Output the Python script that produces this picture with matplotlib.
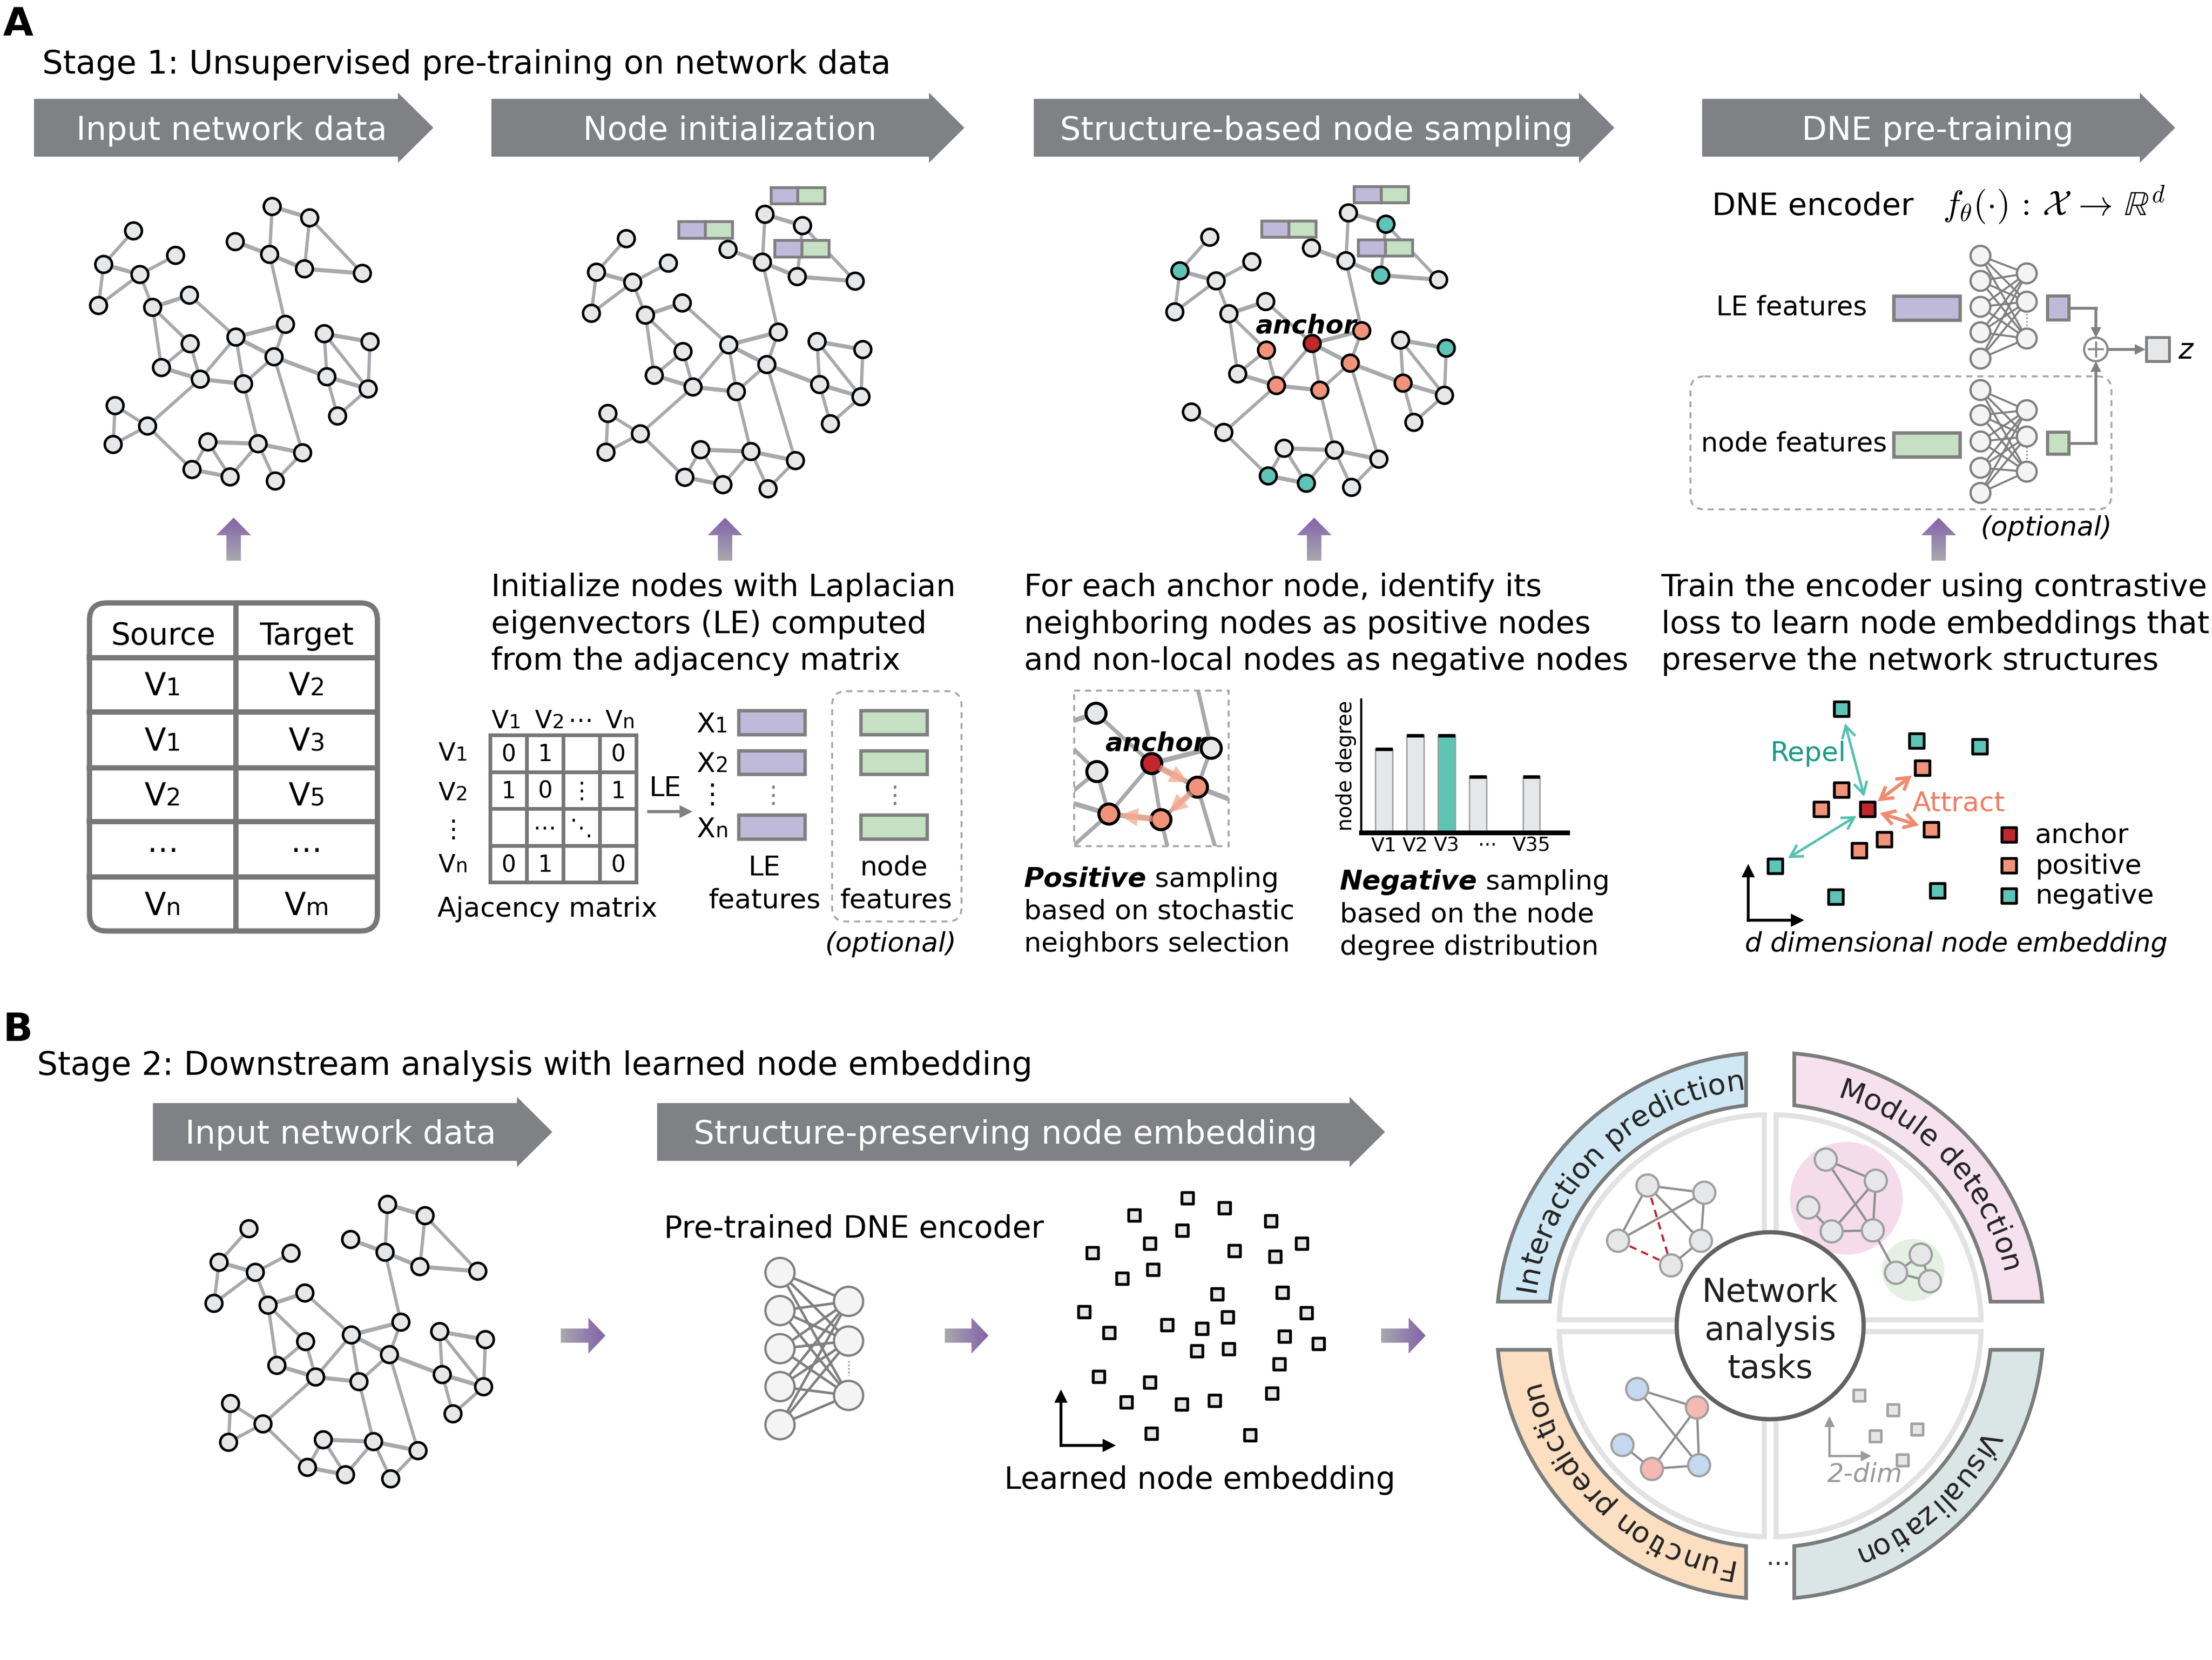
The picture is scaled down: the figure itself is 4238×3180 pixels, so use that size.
import numpy as np
import matplotlib
matplotlib.use("Agg")
import matplotlib.pyplot as plt
from matplotlib.patches import Polygon, Rectangle, Circle, FancyBboxPatch, FancyArrowPatch
from matplotlib.font_manager import FontProperties, findfont, get_font

# ---------------------------------------------------------------- layout
W, H = 1562.0, 1172.0
FIG_W, FIG_H, DPI = 4238, 3180, 300
PX = 72.0 / DPI * FIG_W / W          # points per layout unit

# ---------------------------------------------------------------- data
# base network (panel A, "Input network data"): node coordinates
net_x = [94.3, 73.2, 98.8, 124.0, 69.6, 107.8, 133.8, 192.2, 218.7, 166.1, 190.4, 215.0,
         255.9, 201.6, 166.6, 134.3, 114.0, 141.4, 172.0, 193.5, 229.0, 261.3, 230.8, 260.0,
         238.4, 81.3, 104.2, 79.9, 146.8, 182.3, 213.7, 135.6, 162.5, 194.4]
net_y = [163.0, 186.7, 193.8, 180.3, 215.7, 217.0, 208.4, 145.8, 153.8, 170.6, 179.6, 189.8,
         193.0, 229.0, 238.0, 242.7, 259.5, 267.7, 271.0, 251.9, 235.6, 241.3, 266.0, 274.6,
         293.7, 286.4, 300.8, 313.8, 312.0, 313.3, 319.7, 331.5, 336.7, 339.6]
net_edges = [(0, 1), (1, 2), (2, 3), (1, 4), (2, 4), (2, 5), (5, 6), (5, 16), (5, 15), (6, 14),
             (15, 16), (15, 17), (16, 17), (17, 18), (14, 17), (14, 18), (14, 13), (13, 19),
             (19, 18), (14, 19), (19, 22), (10, 13), (9, 10), (7, 10), (7, 8), (8, 11), (8, 12),
             (11, 12), (10, 11), (20, 21), (20, 22), (20, 23), (21, 23), (22, 23), (23, 24),
             (22, 24), (25, 26), (25, 27), (26, 27), (26, 31), (31, 32), (31, 28), (28, 29),
             (28, 32), (32, 29), (29, 30), (29, 33), (30, 33), (18, 29), (19, 30), (26, 17)]
thick_edges = {(1, 2), (9, 10), (10, 11), (7, 8), (11, 12), (14, 13), (14, 19), (19, 22),
               (20, 21), (22, 23), (17, 18), (16, 17), (28, 29), (29, 30), (31, 32), (5, 6)}
anchor_node = 14
positive_nodes = [13, 15, 17, 18, 19, 22]
negative_nodes = [1, 8, 11, 21, 31, 32]
inset_positive = [17, 18, 19]
walk_path = [14, 19, 18, 17]

# feature boxes attached to nodes (x, y of top-left corner)
feat2_x = [544.2, 479.0, 547.0]
feat2_y = [132.3, 156.4, 169.7]
feat3_x = [956.2, 891.0, 959.0]
feat3_y = [131.5, 155.8, 169.0]

# edge list table
table_header = ["Source", "Target"]
table_source = ["V1", "V1", "V2", "⋯", "Vn"]
table_target = ["V2", "V3", "V5", "⋯", "Vm"]

# adjacency matrix
adj_cols = ["V1", "V2", "⋯", "Vn"]
adj_rows = ["V1", "V2", "⋮", "Vn"]
adj_vals = [["0", "1", "", "0"],
            ["1", "0", "⋮", "1"],
            ["", "⋯", "⋱", ""],
            ["0", "1", "", "0"]]
le_rows = ["X1", "X2", "⋮", "Xn"]

# node degree distribution
deg_labels = ["V1", "V2", "V3", "···", "V35"]
deg_values = [6, 7, 7, 4, 4]
deg_colors = ["#e6e7e8", "#e6e7e8", "#5ec4b6", "#e6e7e8", "#e6e7e8"]

# contrastive embedding (panel A)
emb_a_x = [1300.2, 1353.5, 1398.0, 1357.3, 1300.2, 1286.1, 1318.7, 1363.8, 1330.6, 1312.7,
           1253.5, 1296.4, 1368.2]
emb_a_y = [500.4, 523.1, 526.9, 542.0, 557.7, 571.3, 571.3, 585.5, 592.6, 600.2, 611.5,
           633.3, 628.9]
emb_a_kind = ["negative", "negative", "negative", "positive", "positive", "positive", "anchor",
              "positive", "positive", "positive", "negative", "negative", "negative"]
legend_kinds = ["anchor", "positive", "negative"]

# learned node embedding (panel B)
emb_b_x = [838.4, 864.5, 801.0, 897.4, 834.7, 812.0, 919.3, 771.5, 871.7, 900.4, 814.3,
           792.3, 859.6, 905.7, 765.5, 922.4, 866.8, 824.1, 848.7, 783.3, 906.9, 931.1,
           845.3, 867.6, 903.5, 775.7, 812.0, 795.4, 834.3, 857.7, 898.2, 813.1, 882.7]
emb_b_y = [846.0, 853.0, 858.0, 862.0, 868.5, 878.0, 878.0, 884.5, 883.0, 887.0, 896.5,
           902.5, 913.5, 912.5, 926.0, 927.0, 930.0, 935.5, 938.0, 941.0, 943.5, 948.5,
           954.0, 952.5, 963.0, 972.0, 976.0, 990.0, 991.5, 989.0, 983.5, 1012.0, 1013.0]

# network analysis task icons
ip_x = [1163.4, 1203.5, 1142.6, 1201.1, 1180.0]
ip_y = [837.0, 842.1, 876.0, 876.0, 893.4]
ip_edges = [(0, 1), (0, 2), (0, 3), (2, 1), (1, 3), (3, 4)]
ip_pred = [(0, 4), (2, 4)]
md_x = [1289.3, 1324.6, 1277.0, 1293.4, 1322.5, 1356.3, 1338.9, 1362.8]
md_y = [818.7, 833.6, 852.5, 869.4, 868.7, 885.8, 898.6, 904.6]
md_edges = [(0, 1), (0, 4), (1, 3), (1, 4), (2, 3), (3, 4), (4, 6), (5, 6), (6, 7), (5, 7)]
fp_x = [1156.1, 1198.3, 1145.7, 1166.5, 1199.8]
fp_y = [980.7, 993.7, 1020.2, 1037.1, 1034.5]
fp_class = ["blue", "red", "blue", "red", "blue"]
fp_edges = [(0, 1), (0, 4), (1, 3), (1, 4), (2, 3), (3, 4)]
vis_x = [1312.9, 1336.8, 1353.7, 1324.4, 1343.3]
vis_y = [985.1, 995.5, 1009.2, 1013.9, 1030.8]
task_names = ["Interaction prediction", "Module detection", "Function prediction", "Visualization"]
task_angles = [134.0, 43.0, 227.0, 312.0]
task_colors = ["#cfe8f4", "#f6e2ee", "#fcdec1", "#d9e6e5"]

# ---------------------------------------------------------------- colours
BANNER = "#808185"
NODE_F = "#e6e7e8"
EDGE_C = "#a7a9ac"
TEAL = "#5ec4b6"
ORANGE = "#f0937a"
RED = "#c1272d"
PURPLE_F = "#bfb9da"
GREEN_F = "#c5e0c3"
BOXG = "#7f7f7f"
NNG = "#808080"
NNF = "#f3f4f3"
DASH = "#a8a8a8"
KIND_COL = {"anchor": RED, "positive": ORANGE, "negative": TEAL}

fig = plt.figure(figsize=(FIG_W / DPI, FIG_H / DPI), dpi=DPI)
ax = fig.add_axes([0, 0, 1, 1])
ax.set_xlim(0, W)
ax.set_ylim(H, 0)
ax.set_autoscale_on(False)
ax.axis("off")


# ---------------------------------------------------------------- helpers
def text_width(s, size, weight="normal", style="normal"):
    fp = FontProperties(family="DejaVu Sans", weight=weight, style=style, size=size)
    font = get_font(findfont(fp))
    font.set_size(size, 72)
    w = 0.0
    for ch in s:
        w += font.load_char(ord(ch)).linearHoriAdvance / 65536.0
    return w / PX


def T(x, y, s, size, ha="left", **kw):
    return ax.text(x, y, s, fontsize=size, ha=ha, va="baseline", **kw)


def sub_text(x, y, main, sub, size, subsize, ha="center", color="black"):
    w1 = text_width(main, size)
    w2 = text_width(sub, subsize)
    x0 = x - (w1 + w2) / 2 if ha == "center" else x
    T(x0, y, main, size, color=color)
    T(x0 + w1, y, sub, subsize, color=color)


def label_v(x, y, s, size, subsize):
    if len(s) >= 2 and s[0] in "VX":
        sub_text(x, y, s[0], s[1:], size, subsize)
    else:
        T(x, y, s, size, ha="center")


def banner(x0, tip, ymid, label, tx):
    hb, hh, hl = 20.4, 24.8, 25.0
    pts = [(x0, ymid - hb), (tip - hl, ymid - hb), (tip - hl, ymid - hh), (tip, ymid),
           (tip - hl, ymid + hh), (tip - hl, ymid + hb), (x0, ymid + hb)]
    ax.add_patch(Polygon(pts, closed=True, fc=BANNER, ec="none", zorder=2))
    T(tx, ymid + 8.4, label, 15, ha="center", color="white", zorder=3)


def grad_patch(pts, c0, c1, vertical):
    pts = np.array(pts)
    poly = Polygon(pts, closed=True, fc="none", ec="none")
    ax.add_patch(poly)
    t = np.linspace(0, 1, 64)[:, None]
    cols = np.array(c0)[None, :] * (1 - t) + np.array(c1)[None, :] * t
    x0, x1 = pts[:, 0].min(), pts[:, 0].max()
    y0, y1 = pts[:, 1].min(), pts[:, 1].max()
    img = cols[:, None, :] if vertical else cols[None, :, :]
    im = ax.imshow(img, extent=(x0, x1, y1, y0), aspect="auto", interpolation="bilinear",
                   zorder=3)
    im.set_clip_path(poly)


GRAY_A = (0.66, 0.66, 0.68)
PURP_A = (0.51, 0.385, 0.665)


def up_arrow(x, ytip, ybot):
    hw, sw, hb = 12.3, 5.1, ytip + 12.4
    pts = [(x, ytip), (x + hw, hb), (x + sw, hb), (x + sw, ybot), (x - sw, ybot), (x - sw, hb),
           (x - hw, hb)]
    grad_patch(pts, PURP_A, GRAY_A, True)


def right_arrow(x0, x1, y):
    hl, hw, sw = 12.0, 12.7, 5.0
    pts = [(x0, y - sw), (x1 - hl, y - sw), (x1 - hl, y - hw), (x1, y), (x1 - hl, y + hw),
           (x1 - hl, y + sw), (x0, y + sw)]
    grad_patch(pts, GRAY_A, PURP_A, False)


def arrow(p0, p1, color, lw_px, style="-|>", ms=10, sA=0, sB=0, alpha=1.0, z=5):
    a = FancyArrowPatch(p0, p1, arrowstyle=style, mutation_scale=ms, color=color,
                        lw=lw_px * PX, shrinkA=sA, shrinkB=sB, alpha=alpha, zorder=z,
                        joinstyle="miter", capstyle="butt")
    ax.add_patch(a)
    return a


def add_graph(dx, dy, colors=None, skip=(), scale=1.0, origin=None, clip=None, r=5.9):
    X = np.array(net_x, float)
    Y = np.array(net_y, float)
    if origin is not None:
        X = origin[0] + scale * (X - net_x[anchor_node])
        Y = origin[1] + scale * (Y - net_y[anchor_node])
    else:
        X = X + dx
        Y = Y + dy
    arts = []
    for (a, b) in net_edges:
        if a in skip or b in skip:
            continue
        lw = 2.9 if (a, b) in thick_edges else 2.3
        ln, = ax.plot([X[a], X[b]], [Y[a], Y[b]], color=EDGE_C, lw=lw * scale * PX,
                      solid_capstyle="butt", zorder=3)
        arts.append(ln)
    for i in range(len(X)):
        if i in skip:
            continue
        fc = colors.get(i, NODE_F) if colors else NODE_F
        c = Circle((X[i], Y[i]), r * scale, fc=fc, ec="black", lw=1.8 * scale * PX, zorder=4)
        ax.add_patch(c)
        arts.append(c)
    if clip is not None:
        for a_ in arts:
            a_.set_clip_path(clip)
    return X, Y


def feat_box(x, y, w=38.2, h=11.5, z=6):
    ax.add_patch(Rectangle((x, y), w / 2, h, fc=PURPLE_F, ec=BOXG, lw=2.0 * PX, zorder=z))
    ax.add_patch(Rectangle((x + w / 2, y), w / 2, h, fc=GREEN_F, ec=BOXG, lw=2.0 * PX, zorder=z))


def nnet(xi, yis, xh, yhs, r, lw_px, dots):
    for yi in yis:
        for yh in yhs:
            ax.plot([xi, xh], [yi, yh], color=NNG, lw=lw_px * PX, zorder=3)
    for y in yis:
        ax.add_patch(Circle((xi, y), r, fc=NNF, ec=NNG, lw=1.6 * PX, zorder=4))
    for y in yhs:
        ax.add_patch(Circle((xh, y), r, fc=NNF, ec=NNG, lw=1.6 * PX, zorder=4))
    ax.plot([xh, xh], dots, color=NNG, lw=1.0 * PX, ls=(0, (1, 1.5)), zorder=4)


def dashed_box(x, y, w, h, rnd=0.0, z=2):
    if rnd > 0:
        p = FancyBboxPatch((x, y), w, h, boxstyle="round,pad=0,rounding_size=%g" % rnd,
                           fc="none", ec=DASH, lw=1.4 * PX, ls=(0, (3, 2.5)), zorder=z)
    else:
        p = Rectangle((x, y), w, h, fc="none", ec=DASH, lw=1.4 * PX, ls=(0, (3, 2.5)), zorder=z)
    ax.add_patch(p)


# ================================================================ PANEL A
T(2, 25, "A", 18, weight="bold")
T(30, 52, "Stage 1: Unsupervised pre-training on network data", 15)
ymidA = 90.2
banner(24, 306, ymidA, "Input network data", 163.5)
banner(347, 681, ymidA, "Node initialization", 515.5)
banner(730, 1140, ymidA, "Structure-based node sampling", 929.5)
banner(1202, 1536, ymidA, "DNE pre-training", 1368.5)

# graphs
add_graph(0, 0)
add_graph(348, 5.5)
for fx, fy in zip(feat2_x, feat2_y):
    feat_box(fx, fy)

col3 = {anchor_node: RED}
col3.update({i: ORANGE for i in positive_nodes})
col3.update({i: TEAL for i in negative_nodes})
add_graph(760, 4.5, colors=col3, skip=(27,))
for fx, fy in zip(feat3_x, feat3_y):
    feat_box(fx, fy)
T(922, 235.5, "anchor", 12, ha="center", weight="bold", style="italic", zorder=7)

for xa in [165, 512, 928, 1369]:
    up_arrow(xa, 365.5, 396.0)

# description texts
desc1 = ["Initialize nodes with Laplacian", "eigenvectors (LE) computed", "from the adjacency matrix"]
desc2 = ["For each anchor node, identify its", "neighboring nodes as positive nodes",
         "and non-local nodes as negative nodes"]
desc3 = ["Train the encoder using contrastive", "loss to learn node embeddings that",
         "preserve the network structures"]
for k in range(3):
    T(347, 421 + 26 * k, desc1[k], 14.2)
    T(723, 421 + 26 * k, desc2[k], 14.2)
    T(1173, 421 + 26 * k, desc3[k], 14.2)

# ---- edge-list table
TBL = "#777777"
ax.add_patch(FancyBboxPatch((63.2, 425.7), 203.3, 231.6, boxstyle="round,pad=0,rounding_size=12",
                            fc="white", ec=TBL, lw=3.7 * PX, zorder=3))
ax.plot([166.6, 166.6], [425.7, 657.3], color=TBL, lw=3.7 * PX, zorder=4)
for yl in [464.5, 502.7, 542.0, 580.0, 619.0]:
    ax.plot([63.2, 266.5], [yl, yl], color=TBL, lw=3.7 * PX, zorder=4)
T(115, 455, table_header[0], 14, ha="center", zorder=5)
T(216.5, 455, table_header[1], 14, ha="center", zorder=5)
row_base = [491.0, 530.0, 568.5, 607.0, 646.0]
for k in range(5):
    label_v(115, row_base[k], table_source[k], 14.5, 11)
    label_v(216.5, row_base[k], table_target[k], 14.5, 11)

# ---- adjacency matrix
mx0, my0, cw, chh = 346.0, 519.0, 25.85, 26.0
for i in range(5):
    ax.plot([mx0 + i * cw] * 2, [my0, my0 + 4 * chh], color=TBL, lw=2.6 * PX, zorder=3)
    ax.plot([mx0, mx0 + 4 * cw], [my0 + i * chh] * 2, color=TBL, lw=2.6 * PX, zorder=3)
for r_ in range(4):
    for c_ in range(4):
        v = adj_vals[r_][c_]
        if v:
            T(mx0 + (c_ + 0.5) * cw, my0 + (r_ + 0.5) * chh + 5.5, v, 10.5, ha="center")
col_cx = [357.5, 388.0, 410.0, 438.0]
for c_ in range(4):
    label_v(col_cx[c_], 514, adj_cols[c_], 11.5, 9)
row_cy = [537, 565, 591, 616]
for r_ in range(4):
    label_v(320, row_cy[r_], adj_rows[r_], 11.5, 9)
T(309, 647, "Ajacency matrix", 12.5)
T(470, 562, "LE", 12.5, ha="center")
arrow((457, 573), (489, 573), NNG, 2.2, ms=9)

# ---- LE / node features
feat_y = [501.7, 530.0, 575.4]
for k, fy in enumerate(feat_y):
    ax.add_patch(Rectangle((521.7, fy), 46.8, 16.7, fc=PURPLE_F, ec=BOXG, lw=2.4 * PX, zorder=3))
    ax.add_patch(Rectangle((607.6, fy), 46.8, 16.7, fc=GREEN_F, ec=BOXG, lw=2.4 * PX, zorder=3))
T(546, 567, "⋮", 11, ha="center", color="#777777")
T(632, 567, "⋮", 11, ha="center", color="#777777")
le_base = [517, 545, 567, 591]
for k in range(4):
    label_v(503, le_base[k], le_rows[k], 12.5, 9.5)
dashed_box(587.6, 488.0, 91.4, 162.6, rnd=10)
T(540, 618, "LE", 12.5, ha="center")
T(540, 641, "features", 12.5, ha="center")
T(631, 618, "node", 12.5, ha="center")
T(633, 641, "features", 12.5, ha="center")
T(629, 672, "(optional)", 12.5, ha="center", style="italic")

# ---- positive sampling inset
clip_rect = Rectangle((758.4, 487.7), 109.3, 109.7, transform=ax.transData, fc="none", ec="none")
ax.add_patch(clip_rect)
col_in = {anchor_node: RED}
col_in.update({i: ORANGE for i in inset_positive})
IX, IY = add_graph(0, 0, colors=col_in, scale=1.2, origin=(813.3, 539.1), clip=clip_rect)
dashed_box(758.4, 487.7, 109.3, 109.7, z=6)
for a_, b_ in zip(walk_path[:-1], walk_path[1:]):
    arrow((IX[a_], IY[a_]), (IX[b_], IY[b_]), "#f4a98f", 4.5, style="-|>", ms=9, sA=4, sB=5,
          alpha=0.75, z=5)
T(816, 530, "anchor", 12, ha="center", weight="bold", style="italic", zorder=7)

wpos = text_width("Positive", 12.5, weight="bold", style="italic")
T(723, 626, "Positive", 12.5, weight="bold", style="italic")
T(723 + wpos, 626, " sampling", 12.5)
T(723, 649, "based on stochastic", 12.5)
T(723, 672, "neighbors selection", 12.5)

# ---- degree distribution
bax = fig.add_axes([961.1 / W, 1 - 587.7 / H, (1106.8 - 961.1) / W, (587.7 - 493.8) / H])
deg_pos = np.array([0, 1, 2, 3, 4.7])
bax.bar(deg_pos, deg_values, width=0.54, color=deg_colors, edgecolor="#9a9a9a", lw=0.6)
bax.hlines(deg_values, deg_pos - 0.27, deg_pos + 0.27, color="black", lw=1.6)
bax.set_xlim(-0.727, 5.85)
bax.set_ylim(0, 9.6)
bax.patch.set_alpha(0)
for s_ in ["top", "right"]:
    bax.spines[s_].set_visible(False)
bax.spines["left"].set_linewidth(1.0)
bax.spines["bottom"].set_linewidth(2.2)
bax.set_xticks([0, 1, 2, 3.3, 4.7])
bax.set_xticklabels(deg_labels, fontsize=9)
bax.tick_params(axis="x", length=0, pad=2)
bax.set_yticks([])
bax.set_ylabel("node degree", fontsize=9.5, labelpad=2)

wneg = text_width("Negative", 12.5, weight="bold", style="italic")
T(946, 628, "Negative", 12.5, weight="bold", style="italic")
T(946 + wneg, 628, " sampling", 12.5)
T(946, 651, "based on the node", 12.5)
T(946, 674, "degree distribution", 12.5)

# ---- DNE encoder
T(1209, 152, "DNE encoder", 14.2)
ax.text(1372, 152, r"$f_{\theta}(\cdot)\,:\,\mathcal{X}\,\rightarrow\,\mathbb{R}^{d}$",
        fontsize=16, va="baseline", ha="left", math_fontfamily="cm")
nnet(1398.5, [180.6, 198.3, 216.6, 234.6, 253.2], 1431.2, [193.0, 213.0, 239.0], 7.0, 1.4,
     [221.5, 231.5])
nnet(1398.5, [275.4, 293.1, 311.7, 330.3, 348.0], 1431.2, [289.6, 308.2, 333.0], 7.0, 1.4,
     [315.5, 325.5])
T(1212, 222.5, "LE features", 12.3)
T(1201, 318.5, "node features", 12.3)
ax.add_patch(Rectangle((1337.2, 209.1), 46.7, 16.7, fc=PURPLE_F, ec=BOXG, lw=2.4 * PX, zorder=5))
ax.add_patch(Rectangle((1337.2, 305.5), 46.7, 16.9, fc=GREEN_F, ec=BOXG, lw=2.4 * PX, zorder=5))
ax.add_patch(Rectangle((1446.0, 209.1), 15.0, 16.7, fc=PURPLE_F, ec=BOXG, lw=2.2 * PX, zorder=5))
ax.add_patch(Rectangle((1446.0, 305.2), 15.0, 15.6, fc=GREEN_F, ec=BOXG, lw=2.2 * PX, zorder=5))
ax.plot([1461, 1480], [217.5, 217.5], color=NNG, lw=2.0 * PX, zorder=4)
arrow((1480, 217.5), (1480, 238.5), NNG, 2.0, ms=7)
ax.plot([1461, 1480], [313, 313], color=NNG, lw=2.0 * PX, zorder=4)
arrow((1480, 313), (1480, 255.0), NNG, 2.0, ms=7)
ax.add_patch(Circle((1480, 246.7), 8.3, fc="white", ec="#8a8a8a", lw=1.6 * PX, zorder=6))
ax.plot([1475, 1485], [246.7, 246.7], color="#8a8a8a", lw=1.4 * PX, zorder=7)
ax.plot([1480, 1480], [241.7, 251.7], color="#8a8a8a", lw=1.4 * PX, zorder=7)
arrow((1489, 246.7), (1515, 246.7), NNG, 2.0, ms=7)
ax.add_patch(Rectangle((1515.4, 238.2), 16.3, 16.8, fc=NODE_F, ec=BOXG, lw=2.0 * PX, zorder=5))
T(1538, 253, "z", 13, style="italic")
dashed_box(1193.7, 265.7, 297.3, 93.9, rnd=10)
T(1445, 378, "(optional)", 12.5, ha="center", style="italic")

# ---- contrastive embedding scatter
ea_x = np.array(emb_a_x)
ea_y = np.array(emb_a_y)
anc = emb_a_kind.index("anchor")
SQ_A = ((12.0 - 2.0) * PX) ** 2
for kind in ["negative", "positive", "anchor"]:
    idx = [i for i, k in enumerate(emb_a_kind) if k == kind]
    ax.scatter(ea_x[idx], ea_y[idx], s=SQ_A, marker="s", c=KIND_COL[kind], edgecolors="black",
               linewidths=2.0 * PX, zorder=6)
for j in [0, 10]:
    arrow((ea_x[anc], ea_y[anc]), (ea_x[j], ea_y[j]), "#55c1b1", 1.8,
          style="<->,head_length=0.5,head_width=0.28", ms=11, sA=6, sB=7, z=5)
for j in [3, 7]:
    arrow((ea_x[anc], ea_y[anc]), (ea_x[j], ea_y[j]), "#f08b70", 2.4,
          style="<->,head_length=0.5,head_width=0.3", ms=11, sA=6, sB=6, z=5)
T(1277, 537.5, "Repel", 12.5, ha="center", color="#1b9a89")
T(1383, 572.5, "Attract", 12.5, ha="center", color="#f07e63")
leg_y = [589.2, 611.0, 632.3]
for kind, ly in zip(legend_kinds, leg_y):
    ax.scatter([1418.7], [ly], s=SQ_A, marker="s", c=KIND_COL[kind], edgecolors="black",
               linewidths=2.0 * PX, zorder=6)
    T(1437, ly + 5.8, kind, 12.5)
arrow((1234.5, 650.7), (1234.5, 610.0), "black", 2.0, ms=10)
arrow((1233.5, 649.7), (1274.0, 649.7), "black", 2.0, ms=10)
T(1232, 672, "d dimensional node embedding", 12.3, style="italic")

# ================================================================ PANEL B
T(2, 735, "B", 18, weight="bold")
T(26, 759, "Stage 2: Downstream analysis with learned node embedding", 15)
ymidB = 799.2
banner(108, 390, ymidB, "Input network data", 240.5)
banner(464, 978, ymidB, "Structure-preserving node embedding", 710.0)
add_graph(81.5, 704.5)
for x0, x1 in [(396.0, 427.5), (667.2, 698.0), (975.3, 1006.7)]:
    right_arrow(x0, x1, 943.0)
T(469, 874, "Pre-trained DNE encoder", 14.1)
nnet(550.8, [898.4, 925.3, 952.2, 979.0, 1005.9], 599.2, [918.8, 946.8, 985.2], 10.3, 1.8,
     [961.0, 971.0])
ax.scatter(emb_b_x, emb_b_y, s=((10.3 - 2.0) * PX) ** 2, marker="s", c=NODE_F,
           edgecolors="black", linewidths=2.0 * PX, zorder=5)
arrow((749.2, 1021.5), (749.2, 981.0), "black", 2.0, ms=10)
arrow((748.2, 1020.5), (788.0, 1020.5), "black", 2.0, ms=10)
T(709, 1051, "Learned node embedding", 14)

# ---- network analysis tasks wheel
CX, CY = 1250.0, 936.0
R_C, R_BIN, R_BOUT, GAP_B = 66.0, 156.5, 193.0, 17.0
R_Q, GAP_Q = 149.0, 4.2
SIGNS = [(-1, 1), (1, 1), (-1, -1), (1, -1)]


def band_poly(sx, sy, r_in, r_out, g, n=90):
    to = np.linspace(np.arcsin(g / r_out), np.arccos(g / r_out), n)
    ti = np.linspace(np.arccos(g / r_in), np.arcsin(g / r_in), n)
    xs = np.concatenate([r_out * np.cos(to), r_in * np.cos(ti)])
    ys = np.concatenate([r_out * np.sin(to), r_in * np.sin(ti)])
    return np.column_stack([CX + sx * xs, CY - sy * ys])


def quad_poly(sx, sy, R, g, n=90):
    t = np.linspace(np.arcsin(g / R), np.arccos(g / R), n)
    xs = np.concatenate([[g], R * np.cos(t)])
    ys = np.concatenate([[g], R * np.sin(t)])
    return np.column_stack([CX + sx * xs, CY - sy * ys])


for sx, sy in SIGNS:
    ax.add_patch(Polygon(quad_poly(sx, sy, R_Q, GAP_Q), closed=True, fc="white", ec="#e2e2e2",
                         lw=3.6 * PX, zorder=2, joinstyle="miter"))

# interaction prediction icon
for a_, b_ in ip_edges:
    ax.plot([ip_x[a_], ip_x[b_]], [ip_y[a_], ip_y[b_]], color="#8f8f8f", lw=1.6 * PX, zorder=3)
for a_, b_ in ip_pred:
    ax.plot([ip_x[a_], ip_x[b_]], [ip_y[a_], ip_y[b_]], color="#c0232e", lw=1.5 * PX,
            ls=(0, (3.5, 2.5)), zorder=3)
for x_, y_ in zip(ip_x, ip_y):
    ax.add_patch(Circle((x_, y_), 7.8, fc=NODE_F, ec="#a0a0a0", lw=1.6 * PX, zorder=4))

# module detection icon
ax.add_patch(Circle((1303.8, 846.0), 39.8, fc="#f5dcea", ec="none", zorder=2.5))
ax.add_patch(Circle((1351.0, 896.7), 22.0, fc="#e4f0e1", ec="none", zorder=2.5))
for a_, b_ in md_edges:
    ax.plot([md_x[a_], md_x[b_]], [md_y[a_], md_y[b_]], color="#8f8f8f", lw=1.6 * PX, zorder=3)
for x_, y_ in zip(md_x, md_y):
    ax.add_patch(Circle((x_, y_), 7.8, fc=NODE_F, ec="#a0a0a0", lw=1.6 * PX, zorder=4))

# function prediction icon
FPC = {"blue": "#c4d9f0", "red": "#f6b9b2"}
for a_, b_ in fp_edges:
    ax.plot([fp_x[a_], fp_x[b_]], [fp_y[a_], fp_y[b_]], color="#8f8f8f", lw=1.6 * PX, zorder=3)
for x_, y_, c_ in zip(fp_x, fp_y, fp_class):
    ax.add_patch(Circle((x_, y_), 7.8, fc=FPC[c_], ec="#a0a0a0", lw=1.6 * PX, zorder=4))

# visualization icon
ax.scatter(vis_x, vis_y, s=((10.0 - 1.8) * PX) ** 2, marker="s", c=NODE_F, edgecolors="#a3a3a3",
           linewidths=1.8 * PX, zorder=4)
arrow((1291.9, 1028.8), (1291.9, 1000.0), "#9a9a9a", 1.6, ms=8)
arrow((1291.1, 1028.0), (1321.5, 1028.0), "#9a9a9a", 1.6, ms=8)
T(1317, 1046, "2-dim", 12, ha="center", style="italic", color="#9a9a9a")

# centre circle
ax.add_patch(Circle((CX, CY), R_C, fc="white", ec="#626262", lw=3.0 * PX, zorder=6))
for k, s_ in enumerate(["Network", "analysis", "tasks"]):
    T(CX, 919 + 27 * k, s_, 15, ha="center", zorder=7, color="#1e1e1e")

# coloured bands with curved labels
for (sx, sy), col in zip(SIGNS, task_colors):
    ax.add_patch(Polygon(band_poly(sx, sy, R_BIN, R_BOUT, GAP_B), closed=True, fc=col,
                         ec="#7b7d7d", lw=2.6 * PX, zorder=6, joinstyle="miter"))


def arc_text(s, r, theta_c, size, color="#222222"):
    fp = FontProperties(family="DejaVu Sans", size=size)
    font = get_font(findfont(fp))
    font.set_size(size, 72)
    advs = np.array([font.load_char(ord(c)).linearHoriAdvance / 65536.0 / PX for c in s])
    pos = np.cumsum(np.concatenate([[0], advs[:-1]])) + advs / 2 - advs.sum() / 2
    for c, sc in zip(s, pos):
        th = np.radians(theta_c) - sc / r
        ax.text(CX + r * np.cos(th), CY - r * np.sin(th), c, fontsize=size, ha="center",
                va="baseline", rotation=np.degrees(th) - 90, rotation_mode="anchor",
                color=color, zorder=8)


for name, ang in zip(task_names, task_angles):
    arc_text(name, 168.0, ang, 13.5)
T(1256, 1110, "···", 12, ha="center", color="#333333")

fig.savefig("out.png", dpi=DPI)
